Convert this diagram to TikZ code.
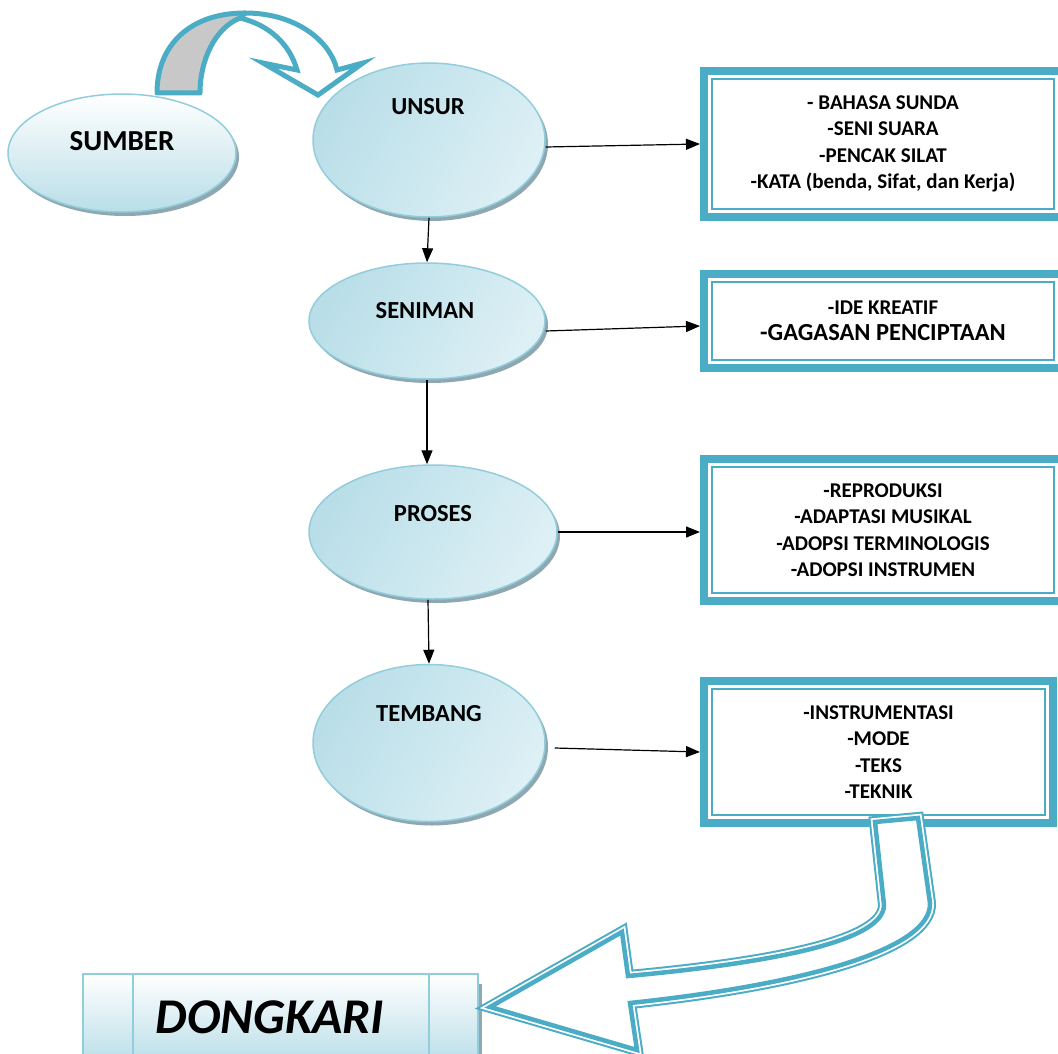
\documentclass[tikz,border=0pt]{standalone}
\usepackage{fontspec}
\setmainfont{Carlito}
\usetikzlibrary{shapes.geometric,arrows.meta,shadows,calc}
\definecolor{tealc}{HTML}{4BACC6}
\definecolor{eborder}{HTML}{92CDDC}
\definecolor{eshadow}{HTML}{8FA7B1}
\definecolor{elight}{HTML}{DDF0F5}
\definecolor{edark}{HTML}{B9DEE8}
\definecolor{grayfill}{HTML}{C8C8C8}
\newcommand\dkarrowpath{(875,822) -- (884,905) .. controls (884,940) and (780,962) .. (628,976) -- (622,932) -- (490,1007) -- (637,1050) -- (630,1003) .. controls (800,985) and (932,950) .. (930,903) -- (918,818) -- cycle}
\begin{document}
\begin{tikzpicture}[x=1pt,y=-1pt,
  bubble/.style={ellipse, draw=eborder, line width=1.5pt, inner sep=0pt,
    left color=edark, right color=elight, shading angle=60,
    drop shadow={shadow xshift=3pt, shadow yshift=-4pt, fill=eshadow, opacity=1}},
  etext/.style={font=\bfseries\fontsize{24.5}{24.5}\selectfont, inner sep=0pt},
  listbox/.style={rectangle, draw=tealc, line width=8pt, fill=white, align=center,
    inner sep=0pt, minimum width=358pt,
    font=\bfseries\fontsize{21}{26.5}\selectfont,
    path picture={\draw[tealc, line width=2pt]
      ([shift={(8pt,8pt)}]path picture bounding box.south west) rectangle
      ([shift={(-8pt,-8pt)}]path picture bounding box.north east);}},
  arr/.style={-{Triangle[length=14pt,width=11pt]}, line width=1.2pt, black},
  dkbox/.style={rectangle, draw=eborder, line width=1.5pt, top color=white,
    bottom color=edark, minimum width=395pt, minimum height=90pt, inner sep=0pt,
    drop shadow={shadow xshift=4pt, shadow yshift=-10pt, fill=eshadow, opacity=1},
    path picture={\draw[eborder, line width=1.5pt]
      ([xshift=50pt]path picture bounding box.north west) --
      ([xshift=50pt]path picture bounding box.south west)
      ([xshift=-49pt]path picture bounding box.north east) --
      ([xshift=-49pt]path picture bounding box.south east);}}
]
\useasboundingbox (0,0) rectangle (1058,1054);

% ellipses
\node[bubble, minimum width=228pt, minimum height=118pt, top color=white, bottom color=edark] (sumber) at (122,153) {};
\node[bubble, minimum width=232pt, minimum height=154pt] (unsur) at (429,140) {};
\node[bubble, minimum width=236pt, minimum height=116pt] (seniman) at (427,321) {};
\node[bubble, minimum width=248pt, minimum height=134pt] (proses) at (433,532) {};
\node[bubble, minimum width=232pt, minimum height=157pt] (tembang) at (429,743) {};

\node[etext, font=\bfseries\fontsize{29}{29}\selectfont] (sumbert) at (122,141) {SUMBER};
\node[etext] (unsurt) at (428,107) {UNSUR};
\node[etext] (senimant) at (425,311) {SENIMAN};
\node[etext] (prosest) at (433,514) {PROSES};
\node[etext] (tembangt) at (429,714) {TEMBANG};

% boxes
\node[listbox, minimum height=146pt] (b1) at (883,144)
  {- BAHASA SUNDA\\-SENI SUARA\\-PENCAK SILAT\\-KATA (benda, Sifat, dan Kerja)};
\node[listbox, minimum height=94pt] (b2) at (883,321)
  {-IDE KREATIF\\\fontsize{24.5}{27}\selectfont -GAGASAN PENCIPTAAN};
\node[listbox, minimum height=142pt] (b3) at (883,530)
  {-REPRODUKSI\\-ADAPTASI MUSIKAL\\-ADOPSI TERMINOLOGIS\\-ADOPSI INSTRUMEN};
\node[listbox, minimum width=349pt, minimum height=142pt] (b4) at (878.5,752)
  {-INSTRUMENTASI\\-MODE\\-TEKS\\-TEKNIK};

% connectors
\draw[arr] ([yshift=-7pt]unsur.east) -- (b1.west);
\draw[arr] ([yshift=-10pt]seniman.east) -- ([yshift=-5pt]b2.west);
\draw[arr] (proses.east) -- ([yshift=-2pt]b3.west);
\draw[arr] ([xshift=9pt,yshift=-5pt]tembang.east) -- (b4.west);
\draw[arr] (unsur.south) -- (seniman.north);
\draw[arr] (seniman.south) -- ([xshift=-6pt]proses.north);
\draw[arr] ([xshift=-5pt]proses.south) -- (tembang.north);

% curved arrow SUMBER -> UNSUR
\draw[tealc, line width=5pt, fill=white, line join=miter]
  (245,13) .. controls (295,13) and (330,40) .. (337,70) -- (363,63) -- (318,95)
  -- (263,63) -- (297,70) .. controls (290,45) and (270,25) .. (240,18) -- cycle;
\draw[tealc, line width=5pt, fill=grayfill, line join=round]
  (157,93) .. controls (157,45) and (190,13) .. (245,13) -- (240,18)
  .. controls (215,28) and (200,60) .. (200,93) -- cycle;

% DONGKARI
\node[dkbox] (dk) at (280.5,1019) {};
\node[font=\bfseries\itshape\fontsize{50}{50}\selectfont, anchor=base, inner sep=0pt] (dkt) at (270,1033) {DONGKARI};

% big arrow TEMBANG box -> DONGKARI
\draw[tealc, line width=12pt, line join=miter] \dkarrowpath;
\draw[white, line width=8pt, line join=miter] \dkarrowpath;
\fill[white] \dkarrowpath;
\draw[tealc, line width=4.5pt, line join=miter] \dkarrowpath;
\end{tikzpicture}
\end{document}
